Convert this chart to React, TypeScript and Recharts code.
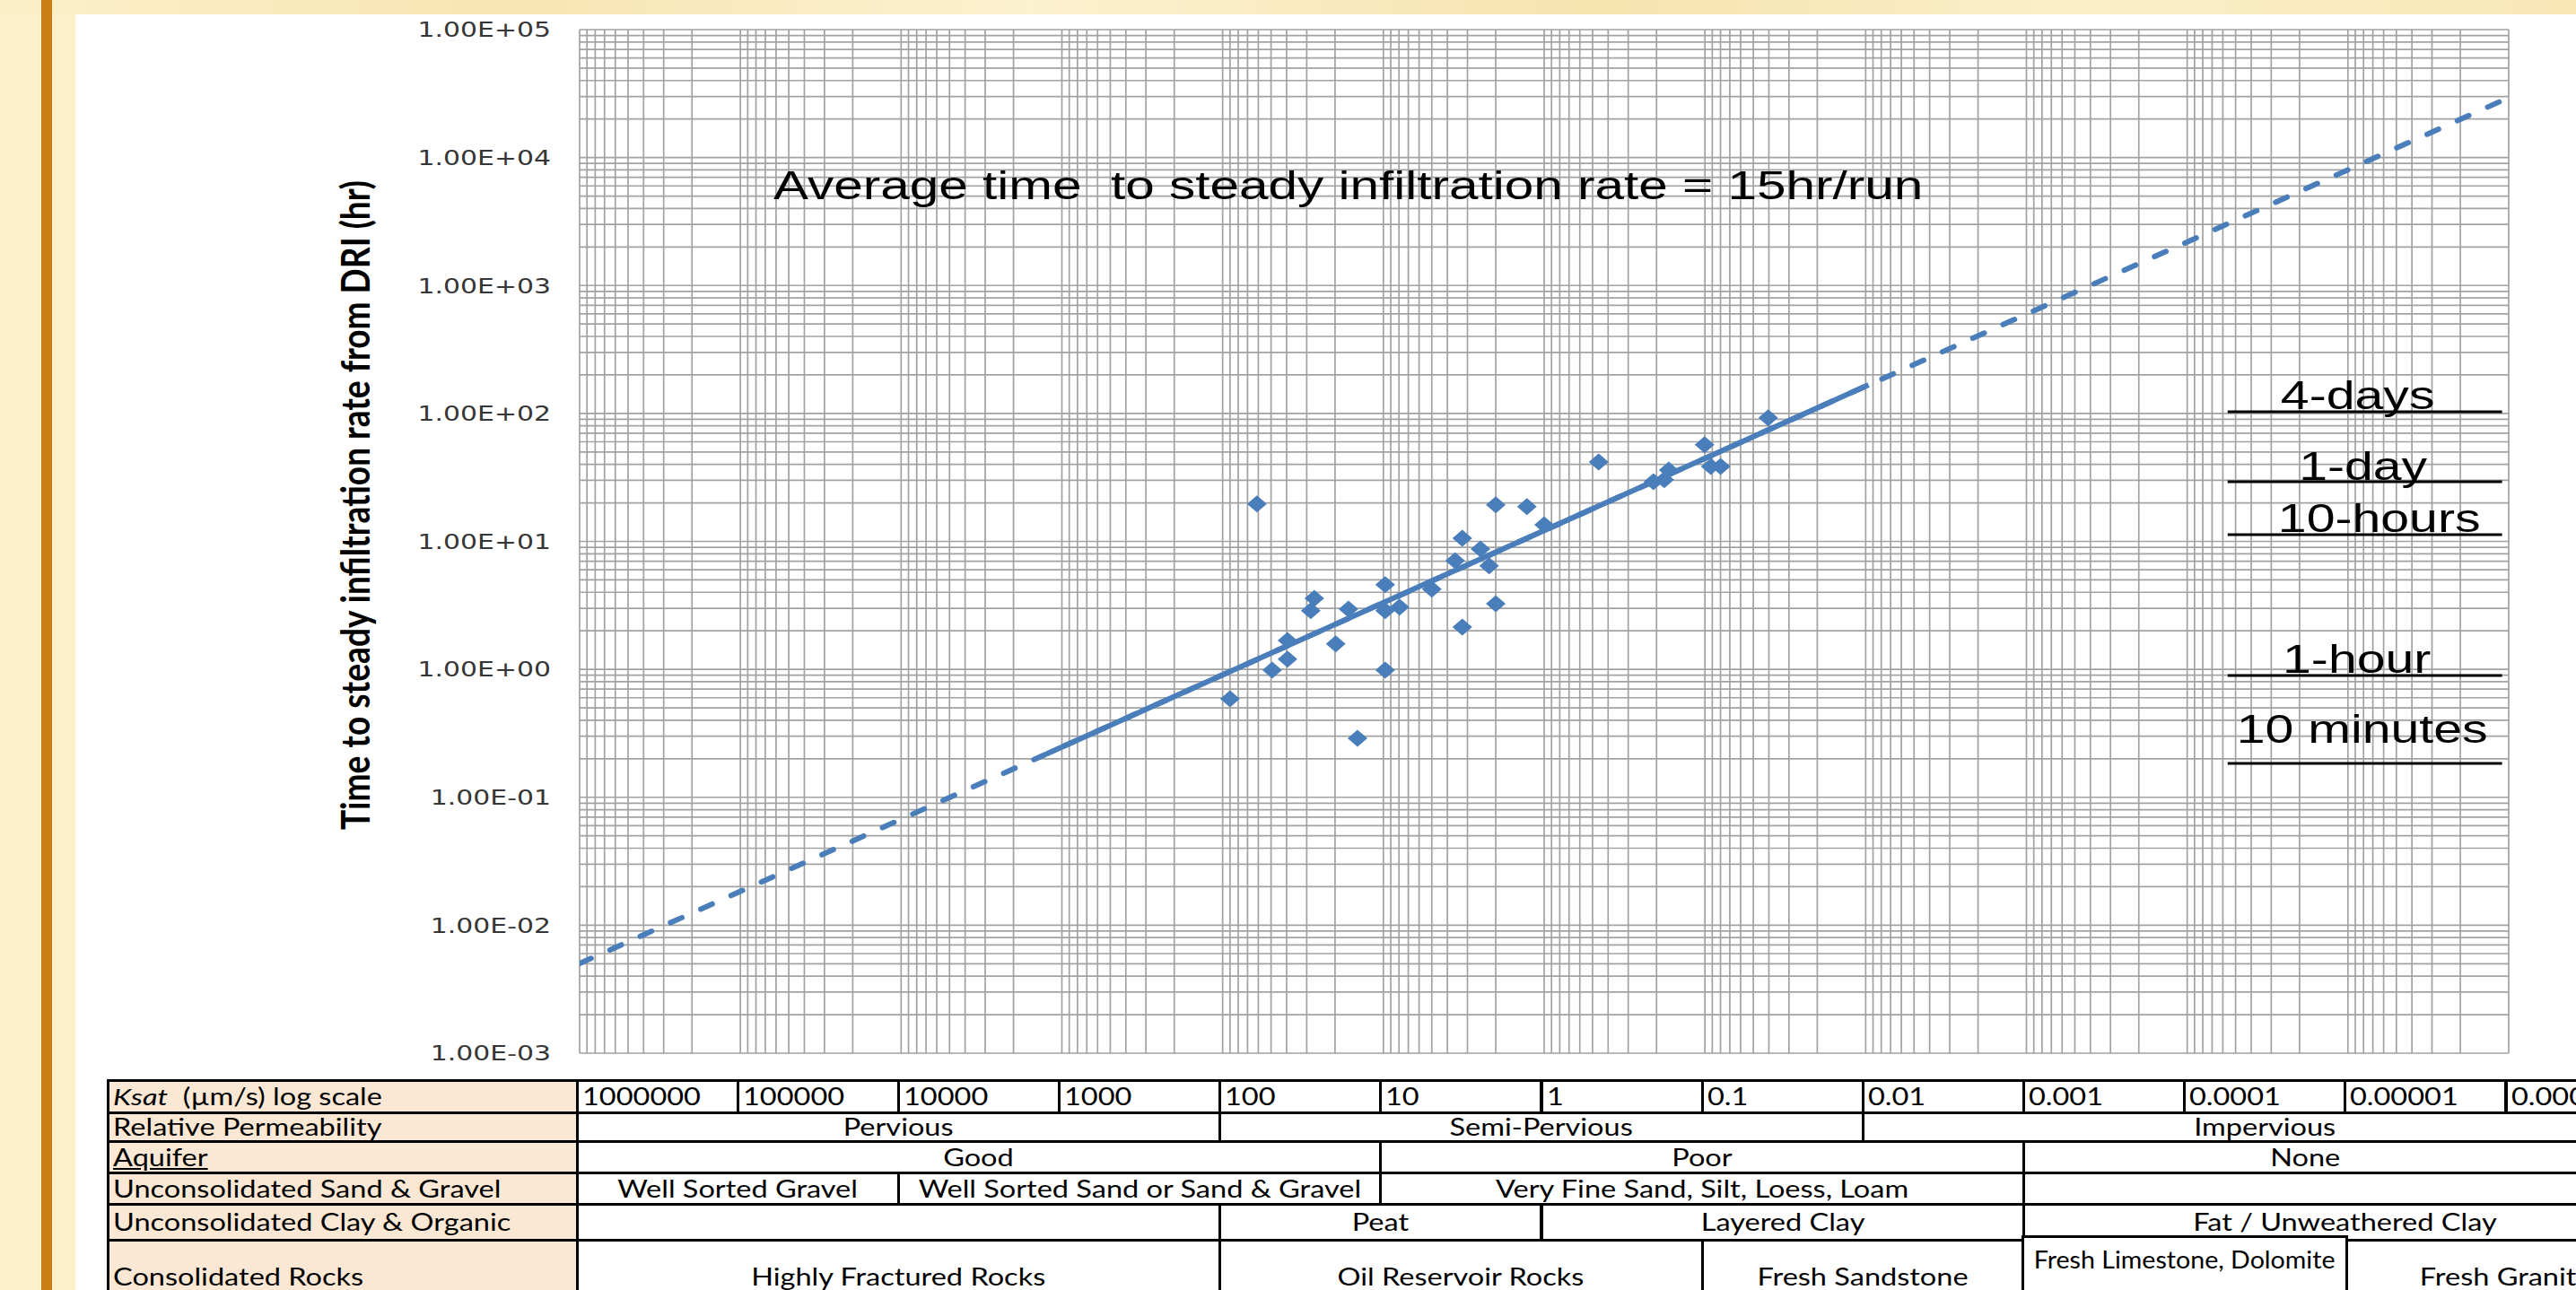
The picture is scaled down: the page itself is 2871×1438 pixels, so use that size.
import React from "react";
import { ScatterChart, Scatter, XAxis, YAxis, ReferenceLine } from "recharts";

const W = 2871;
const H = 1438;
const PLOT_LEFT = 646;
const PLOT_RIGHT = 2796;
const PLOT_TOP = 33;
const PLOT_BOTTOM = 1174;
const DECADE_W = (PLOT_RIGHT - PLOT_LEFT) / 12;
const STRETCH = 1.3; // the source slide is stretched sideways
const TABLE_STRETCH = 1.25;
const BLUE = "#4a7ebb";
const GRID = "#a2a2a2";
const TABLE_FONT = "Lato, 'Open Sans', sans-serif";

// measured runs: Ksat (µm/s) and time to steady infiltration rate (hr)
const ksat = [
  61.2, 90, 49.2, 39.5, 39.5, 28.3, 26.9, 19.8, 16.5, 14.5, 9.75, 9.75, 7.94, 9.75, 5.0, 3.58,
  3.23, 3.23, 2.49, 2.2, 2.0, 2.0, 1.28, 1.0, 0.458, 0.209, 0.179, 0.168, 0.1005, 0.0919, 0.0798, 0.0404
];
const hours = [
  19.6, 0.589, 0.986, 1.2, 1.68, 2.87, 3.59, 1.58, 2.96, 0.289, 4.58, 2.87, 3.06, 0.986, 4.23, 7.08,
  10.6, 2.14, 8.73, 6.43, 19.3, 3.26, 18.7, 13.5, 41.8, 29.3, 30.3, 36.1, 56.9, 38.5, 38.5, 92.3
];

// power trend line, read at the plot edges and where its solid part stops
const trendKsat = [1e6, 1e-6];
const trendHours = [0.00502, 29400];
const fitKsat = [1240, 0.0096];
const fitHours = [0.219, 167];

const yTicks = [0.001, 0.01, 0.1, 1, 10, 100, 1000, 10000, 100000];
const xDecades = [1e6, 1e5, 1e4, 1e3, 100, 10, 1, 0.1, 0.01, 0.001, 1e-4, 1e-5, 1e-6];
const minorSteps = [2, 3, 4, 5, 6, 7, 8, 9];

// reference durations drawn at the right
const markLabels = ["4-days", "1-day", "10-hours", "1-hour", "10 minutes"];
const markHours = [103, 29.3, 11.3, 0.895, 0.184];
const markSpan = [5.6e-5, 1.1e-6];

// table
const ksatLabels = ["1000000", "100000", "10000", "1000", "100", "10", "1", "0.1", "0.01", "0.001", "0.0001", "0.00001", "0.000001"];
const permeability: [string, number, number][] = [["Pervious", 0, 4], ["Semi-Pervious", 4, 8], ["Impervious", 8, 13]];
const aquifer: [string, number, number][] = [["Good", 0, 5], ["Poor", 5, 9], ["None", 9, 13]];
const sandGravel: [string, number, number][] = [
  ["Well Sorted Gravel", 0, 2],
  ["Well Sorted Sand or Sand & Gravel", 2, 5],
  ["Very Fine Sand, Silt, Loess, Loam", 5, 9],
  ["", 9, 13]
];
const clayOrganic: [string, number, number][] = [["", 0, 4], ["Peat", 4, 6], ["Layered Clay", 6, 9], ["Fat / Unweathered Clay", 9, 13]];
const rocks: [string, number, number][] = [
  ["Highly Fractured Rocks", 0, 4],
  ["Oil Reservoir Rocks", 4, 7],
  ["Fresh Sandstone", 7, 9],
  ["", 9, 11],
  ["Fresh Granite", 11, 13]
];
const limestone: [string, number, number] = ["Fresh Limestone, Dolomite", 9, 11];

const rowEdges = [1204, 1240, 1272, 1307, 1342, 1382, 1464];
const markNudge: Record<string, [number, number]> = {
  "4-days": [-8, -3],
  "1-day": [-2, -2],
  "10-hours": [16, -3],
  "1-hour": [-9, -3],
  "10 minutes": [-3, -23]
};
const cellShift: Record<string, number> = { None: -45 };

const points = ksat.map((k, i) => ({ k, t: hours[i] }));
const trendPts = trendKsat.map((k, i) => ({ k, t: trendHours[i] }));
const fitPts = fitKsat.map((k, i) => ({ k, t: fitHours[i] }));
const markPts = markLabels.map((label, i) => ({ k: Math.sqrt(markSpan[0] * markSpan[1]), t: markHours[i], label }));

const gridX = [...xDecades, ...xDecades.slice(0, -1).flatMap((d) => minorSteps.map((m) => (m * d) / 10))];
const gridY = [...yTicks, ...yTicks.slice(1).flatMap((d) => minorSteps.map((m) => (m * d) / 10))];

function expLabel(v: number) {
  const [m, e] = v.toExponential(2).split("e");
  const n = Number(e);
  return `${m}E${n < 0 ? "-" : "+"}${String(Math.abs(n)).padStart(2, "0")}`;
}

function YTick(props: any) {
  const { x, y, payload } = props;
  return (
    <text
      transform={`translate(${x},${y}) scale(${STRETCH},1)`}
      textAnchor="end"
      dy="0.36em"
      fontFamily="'DejaVu Sans', Verdana, sans-serif"
      fontSize={23}
      fill="#363636"
    >
      {expLabel(payload.value)}
    </text>
  );
}

function Diamond(props: any) {
  const { cx, cy } = props;
  if (cx == null || cy == null) return <g />;
  return <polygon points={`${cx},${cy - 9.5} ${cx + 11},${cy} ${cx},${cy + 9.5} ${cx - 11},${cy}`} fill={BLUE} />;
}

function MarkText(props: any) {
  const { cx, cy, payload } = props;
  if (cx == null || cy == null) return <g />;
  const [dx, dy] = markNudge[payload.label] ?? [0, -3];
  return (
    <text
      transform={`translate(${cx + dx},${cy + dy}) scale(${STRETCH},1)`}
      textAnchor="middle"
      fontFamily="'Liberation Sans', Arial, sans-serif"
      fontSize={44}
      fill="#000"
    >
      {payload.label}
    </text>
  );
}

const colX = (i: number) => PLOT_LEFT - 3 + i * DECADE_W;

function Cell(props: {
  x0: number;
  x1: number;
  y0: number;
  y1: number;
  bg?: string;
  left?: boolean;
  shift?: number;
  children?: React.ReactNode;
}) {
  const { x0, x1, y0, y1, bg, left, shift, children } = props;
  return (
    <div
      style={{
        position: "absolute",
        left: x0 - 1.5,
        top: y0 - 1.5,
        width: x1 - x0 + 3,
        height: y1 - y0 + 3,
        border: "3px solid #000",
        boxSizing: "border-box",
        background: bg ?? "#fff",
        display: "flex",
        alignItems: "center",
        justifyContent: left ? "flex-start" : "center",
        paddingLeft: left ? 4 : 0,
        fontFamily: TABLE_FONT,
        fontSize: 26,
        color: "#000",
        whiteSpace: "pre"
      }}
    >
      <span
        style={{
          display: "inline-block",
          transform: `translateX(${shift ?? 0}px) scaleX(${TABLE_STRETCH})`,
          transformOrigin: left ? "left center" : "center center"
        }}
      >
        {children}
      </span>
    </div>
  );
}

function Table() {
  const heads: React.ReactNode[] = [
    <>
      <i>Ksat</i>
      {"  (µm/s) log scale"}
    </>,
    "Relative Permeability",
    <u>Aquifer</u>,
    "Unconsolidated Sand & Gravel",
    "Unconsolidated Clay & Organic",
    "Consolidated Rocks"
  ];
  const spans = [
    ksatLabels.map((l, i) => [l, i, i + 1] as [string, number, number]),
    permeability,
    aquifer,
    sandGravel,
    clayOrganic,
    rocks
  ];
  return (
    <>
      {heads.map((h, r) => (
        <Cell key={`h${r}`} x0={120} x1={colX(0)} y0={rowEdges[r]} y1={rowEdges[r + 1]} bg="#fbe8d4" left>
          {h}
        </Cell>
      ))}
      {spans.map((row, r) =>
        row.map(([text, a, b]) => (
          <Cell
            key={`c${r}-${a}`}
            x0={colX(a)}
            x1={colX(b)}
            y0={rowEdges[r]}
            y1={rowEdges[r + 1]}
            left={r === 0}
            shift={cellShift[text]}
          >
            {text}
          </Cell>
        ))
      )}
      <div
        style={{
          position: "absolute",
          left: colX(limestone[1]) - 3,
          top: rowEdges[5] - 5,
          width: colX(limestone[2]) - colX(limestone[1]) + 6,
          height: 90,
          border: "3px solid #000",
          boxSizing: "border-box",
          background: "#fff",
          textAlign: "center",
          fontFamily: TABLE_FONT,
          fontSize: 26,
          lineHeight: "48px",
          whiteSpace: "pre"
        }}
      >
        <span style={{ display: "inline-block", transform: "scaleX(1.1)" }}>{limestone[0]}</span>
      </div>
    </>
  );
}

export default function App() {
  return (
    <div
      style={{
        position: "fixed",
        left: 0,
        top: 0,
        width: W,
        height: H,
        overflow: "hidden",
        background: "linear-gradient(90deg, #fcefc8 0%, #f8e5b2 20%, #fcf1d0 40%, #f7e3ae 62%, #fbefc8 80%, #f9e7b6 100%)"
      }}
    >
      <div style={{ position: "absolute", left: 0, top: 16, width: 84, bottom: 0, background: "#fcefca" }} />
      <div style={{ position: "absolute", left: 46, top: 0, width: 12, bottom: 0, background: "#c97f16" }} />
      <div style={{ position: "absolute", left: 84, top: 16, right: 0, bottom: 0, background: "#fff" }} />
      <div style={{ position: "absolute", left: 0, top: 0 }}>
        <ScatterChart
          width={W}
          height={H}
          margin={{ top: PLOT_TOP, right: W - PLOT_RIGHT, bottom: H - PLOT_BOTTOM, left: PLOT_LEFT - 60 }}
        >
          <XAxis type="number" dataKey="k" scale="log" domain={[1e-6, 1e6]} reversed hide allowDataOverflow />
          <YAxis
            type="number"
            dataKey="t"
            scale="log"
            domain={[0.001, 100000]}
            ticks={yTicks}
            interval={0}
            width={60}
            axisLine={false}
            tickLine={false}
            tickMargin={26}
            tick={<YTick />}
            allowDataOverflow
          />
          {gridX.map((v) => (
            <ReferenceLine key={`gx${v}`} x={v} stroke={GRID} strokeWidth={1.7} />
          ))}
          {gridY.map((v) => (
            <ReferenceLine key={`gy${v}`} y={v} stroke={GRID} strokeWidth={1.7} />
          ))}
          {markHours.map((h, i) => (
            <ReferenceLine
              key={`m${i}`}
              segment={[
                { x: markSpan[0], y: h },
                { x: markSpan[1], y: h }
              ]}
              stroke="#000"
              strokeWidth={3}
            />
          ))}
          <Scatter data={points} shape={(p: any) => <Diamond {...p} />} isAnimationActive={false} />
          <Scatter
            data={trendPts}
            stroke={BLUE}
            strokeWidth={6}
            strokeDasharray="14 23"
            line={{ stroke: BLUE, strokeWidth: 6, strokeDasharray: "14 23", strokeLinecap: "round" }}
            shape={() => <g />}
            isAnimationActive={false}
          />
          <Scatter
            data={fitPts}
            stroke={BLUE}
            strokeWidth={6}
            line={{ stroke: BLUE, strokeWidth: 6 }}
            shape={() => <g />}
            isAnimationActive={false}
          />
          <Scatter data={markPts} shape={(p: any) => <MarkText {...p} />} isAnimationActive={false} />
        </ScatterChart>
      </div>
      <svg width={W} height={H} style={{ position: "absolute", left: 0, top: 0, pointerEvents: "none" }}>
        <text
          transform={`translate(862,222) scale(${STRETCH},1)`}
          fontFamily="'Liberation Sans', Arial, sans-serif"
          fontSize={45}
          fill="#000"
          style={{ whiteSpace: "pre" }}
        >
          {"Average time  to steady infiltration rate = 15hr/run"}
        </text>
        <text
          transform={`translate(395,563) rotate(-90) scale(1,${STRETCH})`}
          textAnchor="middle"
          dominantBaseline="central"
          fontFamily={TABLE_FONT}
          fontWeight="bold"
          fontSize={34}
          textLength={724}
          lengthAdjust="spacingAndGlyphs"
          fill="#000"
        >
          Time to steady infiltration rate from DRI (hr)
        </text>
      </svg>
      <Table />
    </div>
  );
}
